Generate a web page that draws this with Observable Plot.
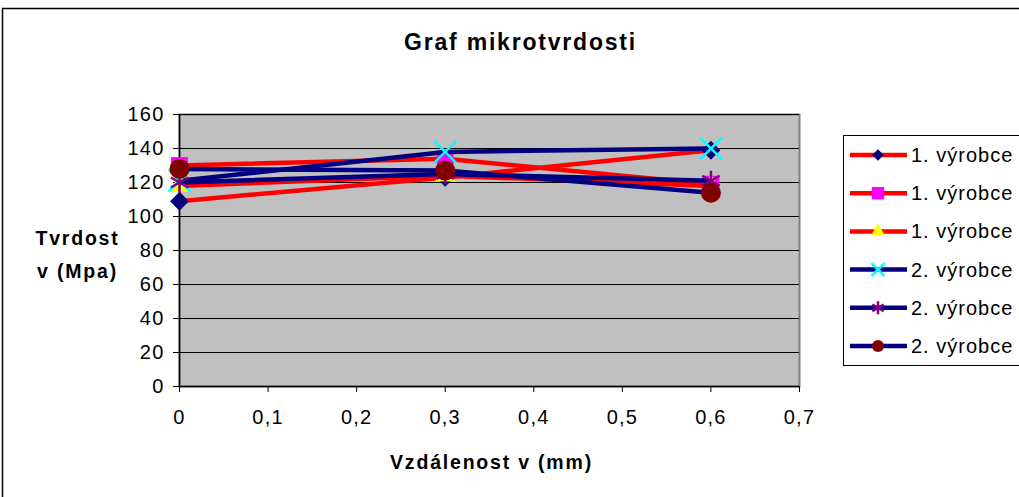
<!DOCTYPE html>
<html>
<head>
<meta charset="utf-8">
<script src="https://cdn.jsdelivr.net/npm/d3@7"></script>
<script src="https://cdn.jsdelivr.net/npm/@observablehq/plot@0.6"></script>
<style>
  html, body { margin: 0; padding: 0; background: white; }
  svg { display: block; }
</style>
</head>
<body>
<div id="chart"></div>
<script>
const distances = [0, 0.3, 0.6];
const seriesNames = ["1. výrobce", "1. výrobce", "1. výrobce", "2. výrobce", "2. výrobce", "2. výrobce"];
const s1 = [109, 123, 139];
const s2 = [130, 134, 119];
const s3 = [118, 124, 118];
const s4 = [121, 138, 140];
const s5 = [120, 125, 121];
const s6 = [128, 127, 114];
const xTicks = [0, 0.1, 0.2, 0.3, 0.4, 0.5, 0.6, 0.7];
const yTicks = [0, 20, 40, 60, 80, 100, 120, 140, 160];
const titleText = "Graf mikrotvrdosti";
const xTitle = "Vzdálenost v (mm)";
const yTitle = "Tvrdost\nv (Mpa)";

const seriesValues = [s1, s2, s3, s4, s5, s6];
const styles = [
  {line: "#ff0000", symbol: "diamond2", d3sym: d3.symbolDiamond2, fill: "#000080", stroke: "none", r: 8.5, legendSize: 85},
  {line: "#ff0000", symbol: "square", d3sym: d3.symbolSquare, fill: "#ff00ff", stroke: "none", r: 9.5, legendSize: 155},
  {line: "#ff0000", symbol: "triangle", d3sym: d3.symbolTriangle, fill: "#ffff00", stroke: "none", r: 7.5, legendSize: 80},
  {line: "#000080", symbol: "times", d3sym: d3.symbolTimes, fill: "none", stroke: "#00ffff", r: 10, legendSize: 115},
  {line: "#000080", symbol: "asterisk", d3sym: d3.symbolAsterisk, fill: "none", stroke: "#800080", r: 9.5, legendSize: 120},
  {line: "#000080", symbol: "circle", d3sym: d3.symbolCircle, fill: "#800000", stroke: "none", r: 10, legendSize: 115}
];

const rows = seriesValues.map((vals, i) => distances.map((d, j) => ({series: i, x: d, y: vals[j]})));

const font = "Liberation Sans, Arial, sans-serif";
const marks = [
  Plot.frame({fill: "#c0c0c0", stroke: "#808080", strokeWidth: 2}),
  Plot.gridY(yTicks, {stroke: "black", strokeOpacity: 1, strokeWidth: 1}),
  Plot.ruleX([0], {stroke: "black", strokeWidth: 1.5}),
  Plot.ruleY([0], {stroke: "black", strokeWidth: 1.5}),
  Plot.axisX(xTicks, {tickSize: 6, tickPadding: 17, tickFormat: d => String(d).replace(".", ","), fontSize: 20, label: null}),
  Plot.axisY(yTicks, {tickSize: 6, tickPadding: 9, fontSize: 20, label: null})
];
rows.forEach((data, i) => {
  const st = styles[i];
  marks.push(Plot.line(data, {x: "x", y: "y", stroke: st.line, strokeWidth: 4.5}));
  marks.push(Plot.dot(data, {x: "x", y: "y", symbol: () => st.symbol, fill: st.fill, stroke: st.stroke, strokeWidth: 2.5, r: st.r}));
});
marks.push(Plot.text([titleText], {frameAnchor: "top", dx: 31, dy: -72, fontSize: 23, fontWeight: "bold", lineAnchor: "middle", fill: "black"}));
marks.push(Plot.text([xTitle], {frameAnchor: "bottom", dx: 2, dy: 76, fontSize: 19.5, fontWeight: "bold", lineAnchor: "middle", fill: "black"}));
marks.push(Plot.text([yTitle], {frameAnchor: "left", dx: -102, dy: 0, fontSize: 19.5, fontWeight: "bold", lineAnchor: "middle", lineHeight: 1.7, textAnchor: "middle", fill: "black"}));

const chart = Plot.plot({
  width: 1019,
  height: 497,
  marginLeft: 179,
  marginRight: 220,
  marginTop: 114,
  marginBottom: 111,
  style: {fontFamily: font, fontSize: "20px", color: "black", background: "white", overflow: "visible"},
  x: {domain: [0, 0.7]},
  y: {domain: [0, 160]},
  marks
});

const svg = d3.select(chart);
svg.selectAll("text").style("letter-spacing", "1.2px");
svg.selectAll("text").filter(function() { return d3.select(this).attr("font-weight") === "bold" || this.closest("[font-weight=bold]"); })
  .style("letter-spacing", "1.8px");

// outer chart border
svg.insert("rect", ":first-child")
  .attr("x", 2.5).attr("y", 8.5).attr("width", 1030).attr("height", 500)
  .attr("fill", "white").attr("stroke", "black").attr("stroke-width", 1.5);

// legend
const lg = svg.append("g").attr("font-family", font).attr("font-size", 20).attr("text-anchor", "start");
lg.append("rect").attr("x", 843.5).attr("y", 135.5).attr("width", 190).attr("height", 230)
  .attr("fill", "white").attr("stroke", "black").attr("stroke-width", 1);
seriesNames.forEach((name, i) => {
  const st = styles[i];
  const cy = 155 + i * 38.2;
  lg.append("line").attr("x1", 850).attr("x2", 907).attr("y1", cy).attr("y2", cy)
    .attr("stroke", st.line).attr("stroke-width", 4.5);
  lg.append("path").attr("transform", `translate(878,${cy})`)
    .attr("d", d3.symbol(st.d3sym, st.legendSize)())
    .attr("fill", st.fill).attr("stroke", st.stroke).attr("stroke-width", 2.5);
  lg.append("text").attr("x", 911).attr("y", cy).attr("dy", "0.35em").attr("fill", "black")
    .attr("text-anchor", "start").style("letter-spacing", "1px").text(name);
});

document.getElementById("chart").appendChild(chart);
</script>
</body>
</html>
